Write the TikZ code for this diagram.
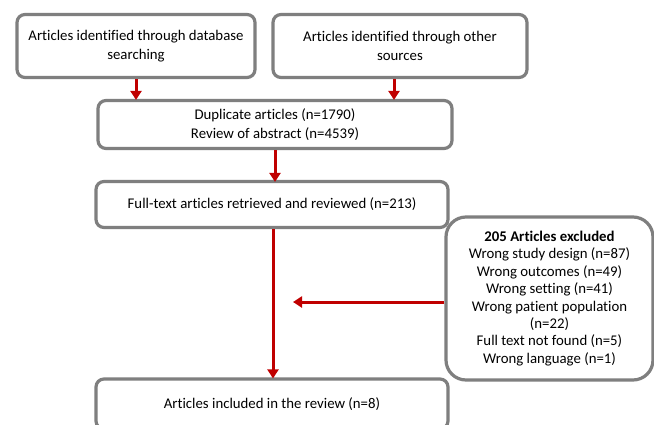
\documentclass[tikz,border=0pt]{standalone}
\usepackage{fontspec}
\setmainfont[Ligatures={NoCommon}]{Carlito}
\usetikzlibrary{arrows.meta}
\definecolor{boxgray}{HTML}{7F7F7F}
\definecolor{arrred}{HTML}{C00000}
\begin{document}
\begin{tikzpicture}[x=1pt,y=-1pt,
  box/.style={draw=boxgray, line width=3.2pt, rounded corners=8pt, fill=white,
    align=center, inner sep=0pt, font=\fontsize{14.8}{18.5}\selectfont},
  arr/.style={draw=arrred, line width=3pt, -{Triangle[length=9pt,width=11pt]}}]
\clip (0,0) rectangle (654,424);
\fill[white] (0,0) rectangle (654,424);
\node[box, minimum width=238pt, minimum height=63pt] (b1) at (136,46)
  {Articles identified through database\\searching};
\node[box, minimum width=254pt, minimum height=63pt] (b2) at (400,46)
  {Articles identified through other\\sources};
\node[box, minimum width=354pt, minimum height=48pt] (b3) at (275,124.5)
  {Duplicate articles (n=1790)\\Review of abstract (n=4539)};
\node[box, minimum width=352pt, minimum height=46pt] (b4) at (272,204.5)
  {Full-text articles retrieved and reviewed (n=213)};
\node[box, rounded corners=20pt, minimum width=207pt, minimum height=163pt,
  font=\fontsize{14.8}{17.4}\selectfont] (b5) at (549.5,298.5)
  {\textbf{205 Articles excluded}\\Wrong study design (n=87)\\Wrong outcomes (n=49)\\Wrong setting (n=41)\\Wrong patient population\\(n=22)\\Full text not found (n=5)\\Wrong language (n=1)};
\node[box, minimum width=352pt, minimum height=50pt] (b6) at (272,404)
  {Articles included in the review (n=8)};
\coordinate (x1) at (136,0);
\coordinate (x2) at (394,0);
\coordinate (x3) at (275,0);
\coordinate (x4) at (273,0);
\coordinate (tip) at (293,302);
\draw[arr] (b1.south -| x1) -- ([yshift=-1pt]b3.north -| x1);
\draw[arr] (b2.south -| x2) -- ([yshift=-1pt]b3.north -| x2);
\draw[arr] (b3.south -| x3) -- ([yshift=-2pt]b4.north -| x3);
\draw[arr] (b4.south -| x4) -- ([yshift=-1pt]b6.north -| x4);
\draw[arr] (b5.west |- tip) -- (tip);
\end{tikzpicture}
\end{document}
